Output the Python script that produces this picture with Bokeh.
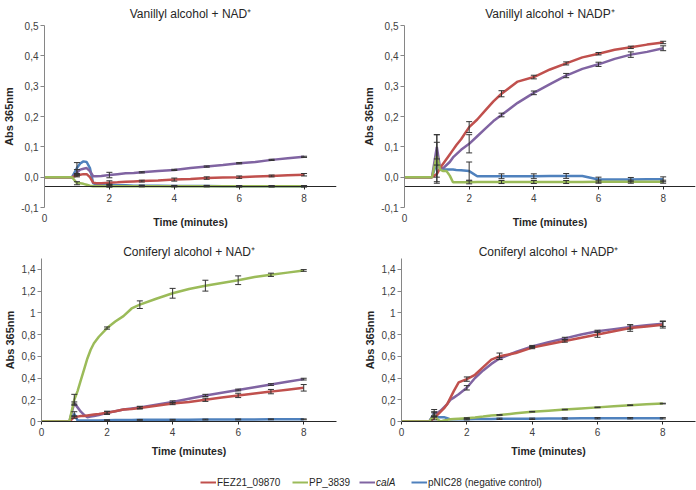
import numpy as np
from bokeh.plotting import figure
from bokeh.models import (Range1d, FixedTicker, CustomJSTickFormatter, Whisker, TeeHead,
                          ColumnDataSource, Legend, LegendItem, LinearAxis)
from bokeh.layouts import column, row
from bokeh.embed import file_html
from bokeh.resources import INLINE

# ---------------- data ----------------
T = [0, 0.85, 1.0, 1.1, 1.2, 1.3, 1.4, 1.5, 1.6, 1.75, 2.0, 2.25, 2.5, 2.75, 3.0,
     3.5, 4.0, 4.5, 5.0, 5.5, 6.0, 6.5, 7.0, 7.5, 8.0]
ERR_T = [1, 2, 3, 4, 5, 6, 7, 8]

SERIES = ["FEZ21_09870", "PP_3839", "calA", "pNIC28 (negative control)"]
COLORS = ["#C0504D", "#9BBB59", "#8064A2", "#4F81BD"]

# Vanillyl alcohol + NAD+
van_nad_fez = [0, 0, 0.005, 0.008, 0.01, 0.01, 0.0, -0.018, -0.02, -0.02, -0.018, -0.017, -0.015,
               -0.014, -0.013, -0.011, -0.008, -0.006, -0.003, -0.001, 0.0, 0.002, 0.004, 0.006, 0.008]
van_nad_pp = [0, 0, -0.02, -0.02, -0.022, -0.025, -0.028, -0.03, -0.03, -0.03, -0.03, -0.03, -0.03,
              -0.03, -0.03, -0.03, -0.03, -0.03, -0.03, -0.03, -0.03, -0.03, -0.03, -0.03, -0.03]
van_nad_cal = [0, 0, 0.015, 0.025, 0.028, 0.03, 0.02, 0.003, 0.003, 0.004, 0.007, 0.01, 0.013,
               0.014, 0.016, 0.02, 0.024, 0.03, 0.035, 0.04, 0.046, 0.05, 0.057, 0.062, 0.067]
van_nad_pnic = [0, 0, 0.03, 0.045, 0.052, 0.05, 0.03, -0.02, -0.024, -0.025, -0.026, -0.027, -0.027,
                -0.028, -0.028, -0.028, -0.029, -0.029, -0.029, -0.03, -0.03, -0.03, -0.03, -0.03, -0.03]
van_nad_err = [
    [0.004, 0.006, 0.003, 0.005, 0.004, 0.004, 0.003, 0.004],
    [0.005, 0.003, 0.002, 0.002, 0.002, 0.002, 0.002, 0.002],
    [0.01, 0.009, 0.002, 0.002, 0.002, 0.002, 0.002, 0.002],
    [0.018, 0.003, 0.002, 0.002, 0.002, 0.002, 0.002, 0.002],
]

# Vanillyl alcohol + NADP+
van_nadp_fez = [0, 0, 0.01, 0.03, 0.045, 0.06, 0.075, 0.09, 0.105, 0.125, 0.165, 0.19, 0.22,
                0.25, 0.275, 0.315, 0.33, 0.355, 0.375, 0.395, 0.407, 0.42, 0.428, 0.437, 0.444]
van_nadp_pp = [0, 0, 0.07, 0.025, 0.02, 0.02, 0.005, -0.017, -0.017, -0.017, -0.017, -0.016, -0.016,
               -0.016, -0.016, -0.016, -0.016, -0.016, -0.016, -0.016, -0.015, -0.015, -0.015, -0.015, -0.015]
van_nadp_cal = [0, 0, 0.10, 0.03, 0.03, 0.04, 0.05, 0.065, 0.075, 0.09, 0.11, 0.135, 0.16,
                0.185, 0.205, 0.245, 0.278, 0.307, 0.335, 0.357, 0.372, 0.39, 0.404, 0.413, 0.425]
van_nadp_pnic = [0, 0, 0.05, 0.03, 0.025, 0.025, 0.025, 0.025, 0.024, 0.023, 0.02, 0.003, 0.003,
                 0.003, 0.003, 0.003, 0.003, 0.004, 0.004, 0.004, -0.008, -0.008, -0.008, -0.007, -0.007]
van_nadp_err = [
    [0.03, 0.018, 0.01, 0.006, 0.005, 0.004, 0.004, 0.004],
    [0.07, 0.005, 0.005, 0.005, 0.005, 0.005, 0.005, 0.005],
    [0.04, 0.03, 0.006, 0.006, 0.007, 0.007, 0.009, 0.008],
    [0.065, 0.03, 0.008, 0.008, 0.008, 0.008, 0.007, 0.008],
]

# Coniferyl alcohol + NAD+
con_nad_fez = [0, 0, 0.04, 0.045, 0.05, 0.05, 0.055, 0.06, 0.065, 0.07, 0.08, 0.095, 0.11,
               0.115, 0.125, 0.145, 0.165, 0.18, 0.2, 0.22, 0.24, 0.258, 0.275, 0.293, 0.31]
con_nad_pp = [0, 0, 0.2, 0.28, 0.38, 0.48, 0.58, 0.66, 0.72, 0.78, 0.86, 0.92, 0.97,
              1.04, 1.075, 1.13, 1.18, 1.22, 1.25, 1.275, 1.30, 1.33, 1.35, 1.37, 1.39]
con_nad_cal = [0, 0, 0.17, 0.13, 0.09, 0.06, 0.04, 0.045, 0.05, 0.06, 0.08, 0.095, 0.11,
               0.12, 0.13, 0.155, 0.18, 0.21, 0.24, 0.265, 0.29, 0.315, 0.34, 0.365, 0.39]
con_nad_pnic = [0, 0, 0.07, 0.01, 0.01, 0.01, 0.01, 0.01, 0.01, 0.01, 0.012, 0.013, 0.013,
                0.014, 0.015, 0.015, 0.016, 0.017, 0.018, 0.018, 0.019, 0.019, 0.02, 0.02, 0.02]
con_nad_err = [
    [0.01, 0.015, 0.01, 0.01, 0.015, 0.02, 0.02, 0.03],
    [0.05, 0.01, 0.035, 0.045, 0.05, 0.04, 0.015, 0.008],
    [0.01, 0.01, 0.01, 0.01, 0.01, 0.008, 0.008, 0.008],
    [0.02, 0.004, 0.004, 0.004, 0.004, 0.004, 0.004, 0.004],
]

# Coniferyl alcohol + NADP+
con_nadp_fez = [0, 0, 0.03, 0.06, 0.09, 0.12, 0.16, 0.22, 0.28, 0.36, 0.39, 0.43, 0.5,
                0.57, 0.6, 0.63, 0.68, 0.71, 0.74, 0.77, 0.80, 0.83, 0.86, 0.875, 0.89]
con_nadp_pp = [0, 0, 0.06, 0.02, 0.0, 0.01, 0.015, 0.02, 0.022, 0.025, 0.03, 0.037, 0.045,
               0.055, 0.06, 0.075, 0.09, 0.1, 0.11, 0.12, 0.13, 0.14, 0.15, 0.158, 0.165]
con_nadp_cal = [0, 0, 0.07, 0.08, 0.1, 0.13, 0.16, 0.2, 0.22, 0.25, 0.31, 0.4, 0.47,
                0.53, 0.58, 0.64, 0.69, 0.73, 0.765, 0.8, 0.83, 0.85, 0.87, 0.885, 0.90]
con_nadp_pnic = [0, 0, 0.08, 0.04, 0.04, 0.04, 0.03, 0.02, 0.02, 0.02, 0.02, 0.022, 0.023,
                 0.024, 0.025, 0.025, 0.025, 0.027, 0.028, 0.029, 0.03, 0.03, 0.03, 0.03, 0.03]
con_nadp_err = [
    [0.015, 0.02, 0.03, 0.01, 0.01, 0.025, 0.03, 0.03],
    [0.02, 0.005, 0.003, 0.003, 0.003, 0.003, 0.003, 0.003],
    [0.02, 0.02, 0.01, 0.01, 0.01, 0.01, 0.02, 0.025],
    [0.03, 0.005, 0.006, 0.006, 0.006, 0.006, 0.006, 0.006],
]

TOP_YTICKS = [-0.1, 0.0, 0.1, 0.2, 0.3, 0.4, 0.5]
BOT_YTICKS = [0.0, 0.2, 0.4, 0.6, 0.8, 1.0, 1.2, 1.4]
TOP_XTICKS = [2, 4, 6, 8]
TOP_ZERO_TICK = [0]
BOT_XTICKS = [0, 2, 4, 6, 8]

FONT = "Liberation Sans"
TXT = "#262626"
TICKTXT = "#404040"

TOP_FMT = "return tick.toFixed(1).replace('.', ',');"
BOT_FMT = "const v = Math.round(tick * 10) / 10; return String(v).replace('.', ',');"


def style_axis_text(ax):
    ax.major_label_text_font_size = "10px"
    ax.major_label_text_font = FONT
    ax.major_label_text_color = TICKTXT
    ax.axis_label_text_font = FONT
    ax.axis_label_text_font_style = "bold"
    ax.axis_label_text_color = TXT
    ax.minor_tick_line_color = None
    ax.major_tick_in = 0


def panel(title, vals, errs, width, height, bl, br, bt, bb, y_start, y_end,
          yticks, yfmt, top_row, title_standoff):
    p = figure(width=width, height=height, x_range=Range1d(0, 9),
               y_range=Range1d(y_start, y_end), output_backend="svg",
               toolbar_location=None, title=title,
               min_border_left=bl, min_border_right=br,
               min_border_top=bt, min_border_bottom=bb)
    p.title.align = "center"
    p.title.text_font = FONT
    p.title.text_font_style = "normal"
    p.title.text_font_size = "12px"
    p.title.text_color = TXT
    p.title.standoff = title_standoff
    p.outline_line_color = None
    p.grid.visible = False
    for i in [3, 2, 0, 1]:
        p.line(T, vals[i], line_color=COLORS[i], line_width=2.5)
    base, up, lo = [], [], []
    for i in range(4):
        for t, e in zip(ERR_T, errs[i]):
            v = vals[i][T.index(t)]
            base.append(t)
            up.append(v + e)
            lo.append(v - e)
    src = ColumnDataSource(dict(base=base, upper=up, lower=lo))
    w = Whisker(source=src, base="base", upper="upper", lower="lower",
                dimension="height", line_color="#333333", line_width=1, level="overlay",
                upper_head=TeeHead(size=6, line_color="#333333", line_width=1),
                lower_head=TeeHead(size=6, line_color="#333333", line_width=1))
    p.add_layout(w)

    ya = p.yaxis[0]
    ya.ticker = FixedTicker(ticks=yticks)
    ya.formatter = CustomJSTickFormatter(code=yfmt)
    style_axis_text(ya)
    ya.major_tick_out = 4
    ya.axis_line_color = "#868686"
    ya.major_tick_line_color = "#868686"
    ya.major_label_standoff = 2
    ya.axis_label = "Abs 365nm"
    ya.axis_label_text_font_size = "11px"
    ya.axis_label_standoff = 3

    xa = p.xaxis[0]
    style_axis_text(xa)
    xa.axis_line_color = "#262626"
    xa.major_tick_line_color = "#262626"
    xa.major_tick_out = 3
    xa.axis_label_text_font_size = "10.5px"
    if top_row:
        # axis line crossing at -0.03 inside the frame
        xa.fixed_location = -0.03
        xa.ticker = FixedTicker(ticks=TOP_XTICKS)
        xa.major_label_standoff = 5
        # lower axis carrying the "0" label and the axis title
        xb = LinearAxis(ticker=FixedTicker(ticks=TOP_ZERO_TICK))
        style_axis_text(xb)
        xb.axis_line_color = None
        xb.major_tick_line_color = None
        xb.major_tick_out = 0
        xb.major_label_standoff = 6
        xb.axis_label = "Time (minutes)"
        xb.axis_label_text_font_size = "10.5px"
        xb.axis_label_standoff = -9
        p.add_layout(xb, "below")
    else:
        xa.ticker = FixedTicker(ticks=BOT_XTICKS)
        xa.major_label_standoff = 3
        xa.axis_label = "Time (minutes)"
        xa.axis_label_standoff = 6
    return p


pA = panel("Vanillyl alcohol + NAD\u207a",
           [van_nad_fez, van_nad_pp, van_nad_cal, van_nad_pnic], van_nad_err,
           360, 236, 41, 24, 25, 29, -0.1, 0.5, TOP_YTICKS, TOP_FMT, True, 9)
pB = panel("Vanillyl alcohol + NADP\u207a",
           [van_nadp_fez, van_nadp_pp, van_nadp_cal, van_nadp_pnic], van_nadp_err,
           336, 236, 40, 1, 25, 29, -0.1, 0.5, TOP_YTICKS, TOP_FMT, True, 9)
pC = panel("Coniferyl alcohol + NAD\u207a",
           [con_nad_fez, con_nad_pp, con_nad_cal, con_nad_pnic], con_nad_err,
           360, 226, 41, 24, 22, 41, 0, 1.5, BOT_YTICKS, BOT_FMT, False, 0)
pD = panel("Coniferyl alcohol + NADP\u207a",
           [con_nadp_fez, con_nadp_pp, con_nadp_cal, con_nadp_pnic], con_nadp_err,
           336, 226, 40, 1, 22, 41, 0, 1.5, BOT_YTICKS, BOT_FMT, False, 0)

# legend strip
pL = figure(width=696, height=28, x_range=Range1d(0, 1), y_range=Range1d(0, 1),
            output_backend="svg", toolbar_location=None, title=None,
            x_axis_location=None, y_axis_location=None,
            min_border_left=0, min_border_right=0, min_border_top=0, min_border_bottom=0)
pL.outline_line_color = None
pL.grid.visible = False
LEG_X = [200, 292, 359, 411]
for i in range(4):
    r = pL.line(np.array([0.0, 1.0]), np.full(2, np.nan), line_color=COLORS[i], line_width=2)
    leg = Legend(items=[LegendItem(label=SERIES[i], renderers=[r])], location=(LEG_X[i], 2),
                 orientation="horizontal", border_line_color=None, background_fill_alpha=0,
                 padding=0, margin=0, glyph_width=16, glyph_height=10, label_height=12,
                 label_standoff=1, label_text_font_size="10px", label_text_font=FONT,
                 label_text_color=TXT,
                 label_text_font_style="italic" if SERIES[i] == "calA" else "normal")
    pL.add_layout(leg)

layout = column(row(pA, pB), row(pC, pD), pL)
open("out.html", "w").write(file_html(layout, INLINE))
